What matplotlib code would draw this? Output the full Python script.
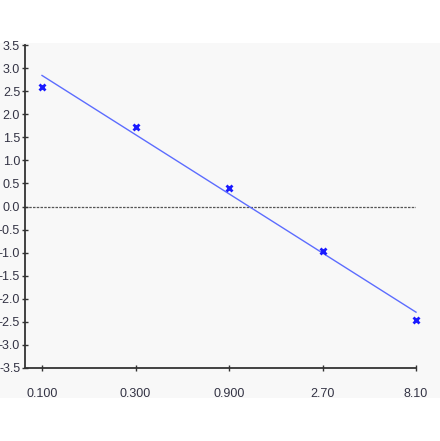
import matplotlib
matplotlib.use("Agg")
import matplotlib.pyplot as plt
from matplotlib.patches import Rectangle
import numpy as np

# Data
doses = [0.1, 0.3, 0.9, 2.7, 8.1]
tick_labels = ["0.100", "0.300", "0.900", "2.70", "8.10"]
responses = [2.58, 1.73, 0.40, -0.96, -2.45]
fit_x = [0.1, 8.1]
fit_y = [2.84, -2.29]
y_ticks = [3.5, 3.0, 2.5, 2.0, 1.5, 1.0, 0.5, 0.0, -0.5, -1.0, -1.5, -2.0, -2.5, -3.0, -3.5]

plt.rcParams['font.family'] = ['Liberation Sans', 'DejaVu Sans']
plt.rcParams['axes.unicode_minus'] = False
bg = '#f8f8f8'
txt = '#333344'

fig = plt.figure(figsize=(4.4, 4.41), dpi=100, facecolor='white')
bgrect = Rectangle((0, (441-398)/441), 1, (398-43)/441,
                   transform=fig.transFigure, facecolor=bg,
                   edgecolor='none', zorder=-10)
fig.add_artist(bgrect)

ax = fig.add_axes([25/440, (441-368)/441, (416-25)/440, (368-45)/441])
ax.set_facecolor(bg)
ax.set_xscale('log')
xmin = 0.1 * 3 ** (-17/93.5)
ax.set_xlim(xmin, 8.1)
ax.set_ylim(-3.5, 3.5)

ax.axhline(0, color='#555555', linestyle=(0, (2, 1)), linewidth=0.9, zorder=1)
ax.plot(fit_x, fit_y, color='#5c6cff', linewidth=1.0, zorder=2, clip_on=False)
ax.plot(doses, responses, linestyle='none', marker='x', markersize=5,
        markeredgewidth=2.0, color='#1a1aff', zorder=3, clip_on=False)

for s in ['top', 'right']:
    ax.spines[s].set_visible(False)
for s in ['left', 'bottom']:
    ax.spines[s].set_color('#333333')
    ax.spines[s].set_linewidth(1.3)

ax.set_xticks(doses)
ax.set_xticklabels(tick_labels)
ax.xaxis.set_minor_locator(matplotlib.ticker.NullLocator())
ax.set_yticks(y_ticks)
ax.set_yticklabels([f"{v:.1f}" for v in y_ticks])
ax.tick_params(axis='both', direction='inout', length=5, width=1.0,
               color='#333333', labelcolor=txt, labelsize=9)
ax.tick_params(axis='x', pad=12)
ax.tick_params(axis='y', pad=1)

fig.savefig('out.png', dpi=100, facecolor='white')
